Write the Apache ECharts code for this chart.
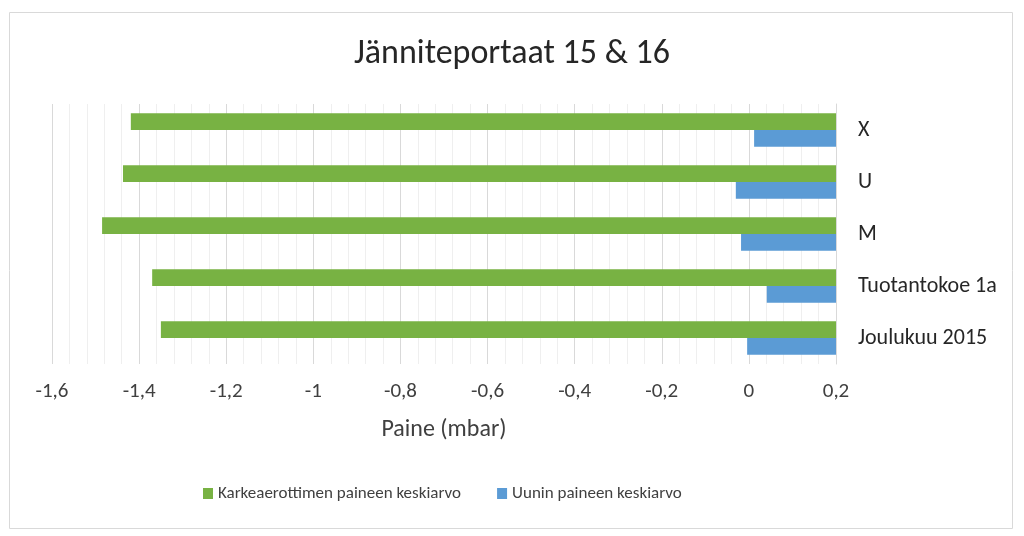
<!DOCTYPE html>
<html>
<head>
<meta charset="utf-8">
<script src="https://cdn.jsdelivr.net/npm/echarts@6/dist/echarts.min.js"></script>
<style>
html,body{margin:0;padding:0;background:#fff;}
#c{width:1024px;height:536px;}
</style>
</head>
<body>
<div id="c"></div>
<script>
var categories = ['Joulukuu 2015', 'Tuotantokoe 1a', 'M', 'U', 'X'];
var greenName = 'Karkeaerottimen paineen keskiarvo';
var blueName = 'Uunin paineen keskiarvo';
var greenValues = [-1.35, -1.37, -1.485, -1.437, -1.419];
var blueValues = [-0.004, 0.041, -0.018, -0.030, 0.012];
var axisCross = 0.2; // bars grow from the axis crossing at 0.2
var axisMin = -1.6;
var axisMax = 0.2;

var font = 'Carlito, Lato, "Open Sans", sans-serif';
function shift(arr){ return arr.map(function(v){ return +(v - axisCross).toFixed(4); }); }

var chart = echarts.init(document.getElementById('c'));
chart.setOption({
  animation: false,
  title: {
    text: 'Jänniteportaat 15 & 16',
    left: 'center', top: 32,
    textStyle: {fontFamily: font, fontSize: 34, fontWeight: 'normal', color: '#262626'}
  },
  graphic: [{
    type: 'rect', shape: {x: 9.5, y: 12.5, width: 1003, height: 516},
    style: {fill: 'none', stroke: '#d9d9d9', lineWidth: 1}, z: -1
  }],
  legend: {
    bottom: 29, left: 198, itemWidth: 10, itemHeight: 11, itemGap: 36,
    data: [greenName, blueName],
    textStyle: {fontFamily: font, fontSize: 17, color: '#404040'},
    icon: 'rect'
  },
  grid: {left: 52, right: 188, top: 104, height: 260, containLabel: false},
  xAxis: {
    type: 'value',
    min: axisMin - axisCross, max: axisMax - axisCross, interval: 0.2,
    axisLine: {show: false}, axisTick: {show: false},
    axisLabel: {
      margin: 17, fontFamily: font, fontSize: 21, color: '#404040',
      formatter: function(v){ var r = Math.round((v + axisCross) * 10) / 10; return String(r).replace('.', ','); }
    },
    splitLine: {show: true, lineStyle: {color: '#d9d9d9', width: 1}},
    minorTick: {show: false, splitNumber: 5},
    minorSplitLine: {show: true, lineStyle: {color: '#efefef', width: 1}},
    name: 'Paine (mbar)', nameLocation: 'middle', nameGap: 54,
    nameTextStyle: {fontFamily: font, fontSize: 24, color: '#404040'}
  },
  yAxis: {
    type: 'category', data: categories, position: 'right',
    axisLine: {show: true, lineStyle: {color: '#d9d9d9'}},
    axisTick: {show: false},
    axisLabel: {margin: 22, fontFamily: font, fontSize: 22, color: '#262626', align: 'left'}
  },
  series: [
    {name: greenName, type: 'bar', data: shift(greenValues), itemStyle: {color: '#78B243'}, barGap: '0%', barCategoryGap: '36%'},
    {name: blueName, type: 'bar', data: shift(blueValues), itemStyle: {color: '#5B9BD5'}, barGap: '0%', barCategoryGap: '36%'}
  ]
});
</script>
</body>
</html>
